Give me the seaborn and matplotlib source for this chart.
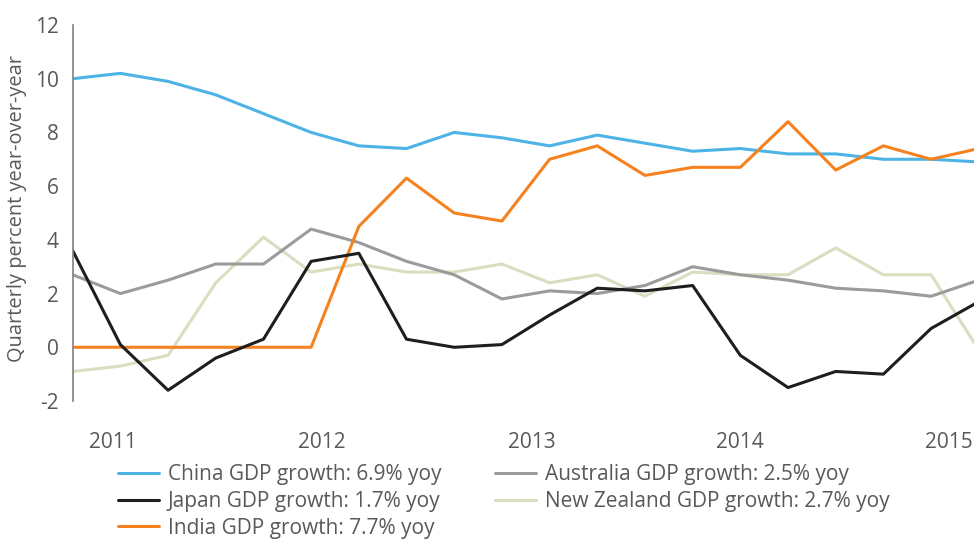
import matplotlib
matplotlib.use("Agg")
import matplotlib.pyplot as plt
import pandas as pd
import seaborn as sns

# quarterly observations, index 0 = first quarter shown
quarters = list(range(20))
china = [10.0, 10.2, 9.9, 9.4, 8.7, 8.0, 7.5, 7.4, 8.0, 7.8,
         7.5, 7.9, 7.6, 7.3, 7.4, 7.2, 7.2, 7.0, 7.0, 6.9]
japan = [3.6, 0.1, -1.6, -0.4, 0.3, 3.2, 3.5, 0.3, 0.0, 0.1,
         1.2, 2.2, 2.1, 2.3, -0.3, -1.5, -0.9, -1.0, 0.7, 1.7]
india = [0.0, 0.0, 0.0, 0.0, 0.0, 0.0, 4.5, 6.3, 5.0, 4.7,
         7.0, 7.5, 6.4, 6.7, 6.7, 8.4, 6.6, 7.5, 7.0, 7.4]
australia = [2.7, 2.0, 2.5, 3.1, 3.1, 4.4, 3.9, 3.2, 2.7, 1.8,
             2.1, 2.0, 2.3, 3.0, 2.7, 2.5, 2.2, 2.1, 1.9, 2.5]
new_zealand = [-0.9, -0.7, -0.3, 2.4, 4.1, 2.8, 3.1, 2.8, 2.8, 3.1,
               2.4, 2.7, 1.9, 2.8, 2.7, 2.7, 3.7, 2.7, 2.7, -0.1]

year_labels = ["2011", "2012", "2013", "2014", "2015"]
year_positions = [0.85, 5.23, 9.62, 13.99, 18.38]

labels = {
    "China": "China GDP growth: 6.9% yoy",
    "Japan": "Japan GDP growth: 1.7% yoy",
    "India": "India GDP growth: 7.7% yoy",
    "Australia": "Australia GDP growth: 2.5% yoy",
    "New Zealand": "New Zealand GDP growth: 2.7% yoy",
}
colors = {
    "China": "#4db3e6",
    "Japan": "#1e1e1e",
    "India": "#f5821f",
    "Australia": "#9b9b9b",
    "New Zealand": "#dcdcc0",
}
series = {
    "China": china,
    "Japan": japan,
    "India": india,
    "Australia": australia,
    "New Zealand": new_zealand,
}

sns.set_theme(style="white")
plt.rcParams["font.family"] = ["Open Sans", "DejaVu Sans"]
text_color = "#595959"

fig = plt.figure(figsize=(9.74, 5.4), dpi=100)
ax = fig.add_axes([72.7 / 974, 139 / 540, 1 - 72.7 / 974, 376 / 540])

draw_order = ["New Zealand", "Australia", "China", "India", "Japan"]
handles = {}
for name in draw_order:
    df = pd.DataFrame({"q": quarters, "v": series[name]})
    sns.lineplot(data=df, x="q", y="v", ax=ax, color=colors[name],
                 linewidth=2.2, label=labels[name], legend=False)
    handles[name] = ax.get_lines()[-1]

ax.set_xlim(0, 18.9)
ax.set_ylim(-2, 12)
ax.set_yticks(range(-2, 13, 2))
ax.set_yticklabels([str(v) for v in range(-2, 13, 2)], fontsize=15, color=text_color)
ax.set_xticks(year_positions)
ax.set_xticklabels(year_labels, fontsize=15, color=text_color)
ax.tick_params(axis="both", length=0)
ax.tick_params(axis="x", pad=22.5)
ax.tick_params(axis="y", pad=10)
ax.set_xlabel("")
ax.set_ylabel("")
for side in ("top", "right", "bottom"):
    ax.spines[side].set_visible(False)
ax.spines["left"].set_color("#808080")
ax.spines["left"].set_linewidth(1.2)

fig.text(17 / 974, 1 - 209 / 540, "Quarterly percent year-over-year",
         rotation=90, ha="center", va="center", fontsize=14.4, color=text_color)

legend_order = ["China", "Japan", "India", "Australia", "New Zealand"]
leg = fig.legend([handles[n] for n in legend_order], [labels[n] for n in legend_order],
                 ncol=2, loc="upper left", bbox_to_anchor=(118 / 974, 1 - 464 / 540),
                 frameon=False, fontsize=15, handlelength=1.97, handletextpad=0.43,
                 columnspacing=2.55, labelspacing=0.28, borderaxespad=0, borderpad=0)
for t in leg.get_texts():
    t.set_color(text_color)

fig.savefig("out.png", dpi=100)
